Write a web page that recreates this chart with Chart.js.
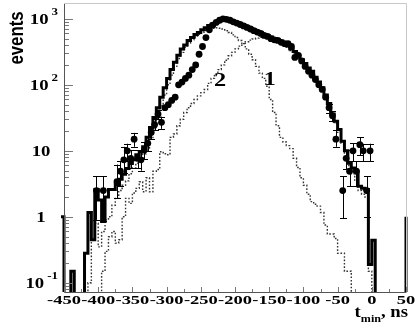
<!DOCTYPE html>
<html><head><meta charset="utf-8">
<script src="https://cdn.jsdelivr.net/npm/chart.js@4/dist/chart.umd.min.js"></script>
<style>html,body{margin:0;padding:0;background:#fff;}#wrap{position:relative;width:415px;height:327px;}</style>
</head><body><div id="wrap"><canvas id="c" width="415" height="327"></canvas></div>
<script>
// bin edges (ns)
const binEdges = [-455,-450,-445,-440,-435,-430,-425,-420,-415,-410,-405,-400,-395,-390,-385,-380,-375,-370,-365,-360,-355,-350,-345,-340,-335,-330,-325,-320,-315,-310,-305,-300,-295,-290,-285,-280,-275,-270,-265,-260,-255,-250,-245,-240,-235,-230,-225,-220,-215,-210,-205,-200,-195,-190,-185,-180,-175,-170,-165,-160,-155,-150,-145,-140,-135,-130,-125,-120,-115,-110,-105,-100,-95,-90,-85,-80,-75,-70,-65,-60,-55,-50,-45,-40,-35,-30,-25,-20,-15,-10,-5,0,5,10,15,20,25,30,35,40,45,50,55];
// simulated histogram (thick line)
const histCounts = [1,
 0,0,0.15,0,0,0,0.28,1.16,0.45,2.6,
 1.8,0.85,2.0,2.6,2.6,3.1,3.7,4.4,5.4,6.4,
 7.3,8.7,9.7,11.5,16,22,32,45,65,90,
 125,170,220,280,350,400,470,520,580,620,
 680,730,790,830,880,930,980,1000,950,900,
 870,830,800,760,720,680,650,620,580,560,
 530,500,480,460,430,390,350,320,280,240,
 210,180,160,130,110,90,70,52,36,28,
 21,14,10,6.5,5.5,4.9,2.9,2.7,2.6,0.19,
 0.44,0,0,0,0,0,0,0,0,0,
 1];
// component 1 (dotted)
const curve1 = [0,
 0,0,0,0,0,0,0,0.1,0.45,0.8,
 0.35,0.6,0.9,1.0,1.5,1.9,2.5,3.0,3.5,4.5,
 5.5,6.5,7.5,9,11,15,22,32,48,70,
 100,140,190,250,310,370,430,480,530,580,
 630,670,700,720,730,720,700,660,620,570,
 520,470,420,350,290,240,190,150,125,95,
 60,38,24,16,13.6,12,10.8,7.7,5.6,3.9,
 3.0,2.2,1.7,1.55,1.45,1.16,0.75,0.55,0.55,0.47,
 0.28,0.28,0.15,0.15,0,0,0,0,0,0,
 0,0,0,0,0,0,0,0,0,0,
 0];
// component 2 (dotted)
const curve2 = [0,
 0,0,0,0,0,0,0,0,0,0,
 0,0.15,0.3,0.5,0.6,0.4,0.45,1.0,1.9,1.6,
 2.3,2.7,3.4,2.4,3.9,2.4,4.9,5.2,9.7,9.0,
 8.7,16,18,24,30,38,45,52,60,68,
 76,85,105,125,145,170,200,235,275,310,
 350,385,420,450,475,495,510,525,535,540,
 520,490,460,430,400,370,330,300,260,220,
 190,160,140,115,95,80,62,48,34,26,
 19,13,9,6,4.5,3.5,2.5,2.2,2.0,0.15,
 0,0,0,0,0,0,0,0,0,0,
 0];
// experimental points
const pointX = [-402.5,-392.5,-372.5,-367.5,-362.5,-357.5,-352.5,-347.5,-342.5,-337.5,-332.5,-327.5,-322.5,-317.5,-312.5,-307.5,
 -302.5,-297.5,-292.5,-287.5,-282.5,-277.5,-272.5,-267.5,-262.5,-257.5,-252.5,-247.5,-242.5,-237.5,-232.5,-227.5,-222.5,-217.5,-212.5,-207.5,-202.5,-197.5,-192.5,-187.5,-182.5,-177.5,-172.5,-167.5,-162.5,-157.5,-152.5,-147.5,-142.5,-137.5,-132.5,-127.5,-122.5,-117.5,-112.5,-107.5,-102.5,-97.5,-92.5,-87.5,-82.5,-77.5,-72.5,-67.5,
 -62.5,-57.5,-52.5,-42.5,-37.5,-32.5,-27.5,-22.5,-17.5,-12.5,-7.5,-2.5];
const pointY = [2.5,2.5,3.4,4.9,7.3,10,7.7,15,7.7,7.3,10.3,13,19,25,36,27,
 45,50,58,65,100,110,125,140,170,200,290,380,520,680,800,880,950,1000,980,950,900,860,820,780,740,700,660,630,600,560,540,500,480,470,440,420,420,380,260,280,230,190,160,140,120,100,85,65,
 45,34,15,2.5,7.7,4.9,10,4.9,12.4,10,2.5,10];
// error bars
const errX = [-402.5,-392.5,-372.5,-367.5,-362.5,-357.5,-352.5,-347.5,-342.5,-337.5,-332.5,-327.5,-322.5,-317.5,-312.5,-307.5,-62.5,-57.5,-52.5,-42.5,-37.5,-32.5,-27.5,-22.5,-17.5,-12.5,-7.5,-2.5];
const errLo = [0.9,0.87,1.9,2.9,4.6,7.0,5.4,11.5,5.4,5.0,7.5,9.8,15,20.5,30,21.5,38,28,11.5,0.95,5.3,2.9,7,2.9,8.5,6.9,1.0,6.9];
const errHi = [4.1,4.1,6.2,7.0,11.5,12.8,10.2,18.7,10.2,9.8,13.6,16.5,23.5,30,42,33,52,40,21,4.1,10.2,7.0,13,7.0,16,12.8,4.1,12.8];
// axis ticks / labels
const xTickValues = [-450,-400,-350,-300,-250,-200,-150,-100,-50,0,50];
const yDecades = [0.1,1,10,100,1000];
const yLabelBase = ['10','1','10','10','10'];
const yLabelExp = ['-1','','','2','3'];
const curveLabels = [{text:'1', x:-149, y:118},{text:'2', x:-222, y:114}];

const FLOOR = 0.01;
function steps(vals){
  const d = [];
  for (let i=0;i<vals.length;i++) d.push({x:binEdges[i], y: vals[i] > 0 ? vals[i] : FLOOR});
  d.push({x:binEdges[vals.length], y: vals[vals.length-1] > 0 ? vals[vals.length-1] : FLOOR});
  return d;
}
const SERIF = '"Liberation Serif","Times New Roman",serif';
function sText(ctx, text, x, y, font, sx, align, base){
  ctx.save();
  ctx.font = font; ctx.textAlign = align; ctx.textBaseline = base || 'middle';
  ctx.translate(x, y); ctx.scale(sx, 1);
  ctx.fillText(text, 0, 0);
  ctx.restore();
}
function sWidth(ctx, text, font, sx){ ctx.save(); ctx.font = font; const w = ctx.measureText(text).width * sx; ctx.restore(); return w; }

const decor = {
  id:'decor',
  afterDatasetsDraw(chart){
    const ctx = chart.ctx, xs = chart.scales.x, ys = chart.scales.y, a = chart.chartArea;
    ctx.save();
    // error bars
    ctx.strokeStyle = '#000'; ctx.lineWidth = 1;
    for (let i=0;i<errX.length;i++){
      const px = Math.round(xs.getPixelForValue(errX[i])) + 0.5;
      const p1 = ys.getPixelForValue(errLo[i]), p2 = ys.getPixelForValue(errHi[i]);
      ctx.beginPath();
      ctx.moveTo(px,p1); ctx.lineTo(px,p2);
      ctx.moveTo(px-3.5,Math.round(p1)+0.5); ctx.lineTo(px+3.5,Math.round(p1)+0.5);
      ctx.moveTo(px-3.5,Math.round(p2)+0.5); ctx.lineTo(px+3.5,Math.round(p2)+0.5);
      ctx.stroke();
    }
    // frame
    ctx.lineWidth = 1;
    ctx.strokeStyle = '#c8c8c8';
    ctx.beginPath(); ctx.moveTo(a.left, a.top-0.5); ctx.lineTo(a.right+0.5, a.top-0.5); ctx.lineTo(a.right+0.5, a.bottom); ctx.stroke();
    ctx.strokeStyle = '#555';
    ctx.beginPath(); ctx.moveTo(a.left+0.5, a.top); ctx.lineTo(a.left+0.5, a.bottom+0.5); ctx.lineTo(a.right+0.5, a.bottom+0.5); ctx.stroke();
    // y ticks (inward)
    ctx.strokeStyle = '#777';
    ctx.beginPath();
    for (const d of [0.01].concat(yDecades)) {
      for (let m=1;m<10;m++){
        const v = m*d;
        if (v < ys.min || v > ys.max) continue;
        const py = Math.round(ys.getPixelForValue(v)) + 0.5;
        const len = m===1 ? 8 : 4;
        ctx.moveTo(a.left+1, py); ctx.lineTo(a.left+1+len, py);
      }
    }
    ctx.stroke();
    // x ticks (inward)
    ctx.beginPath();
    for (let v=-450; v<=50; v+=25){
      const px = Math.round(xs.getPixelForValue(v)) + 0.5;
      const len = (v % 50 === 0) ? 5 : 3;
      ctx.moveTo(px, a.bottom); ctx.lineTo(px, a.bottom-len);
    }
    ctx.stroke();
    ctx.fillStyle = '#000';
    // x tick labels
    for (const v of xTickValues) sText(ctx, String(v), xs.getPixelForValue(v), 301, 'bold 13px ' + SERIF, 1.42, 'center');
    // y labels
    for (let i=0;i<yDecades.length;i++){
      const py = ys.getPixelForValue(yDecades[i]);
      const bf = 'bold 15px ' + SERIF, ef = 'bold 10px ' + SERIF;
      if (yLabelExp[i]) {
        const ew = sWidth(ctx, yLabelExp[i], ef, 1.3);
        const ex = 58 - ew;
        sText(ctx, yLabelExp[i], ex, py - 6, ef, 1.3, 'left');
        sText(ctx, yLabelBase[i], ex - 3, py + 1, bf, 1.25, 'right');
      } else {
        sText(ctx, yLabelBase[i], 41, py + 1, bf, 1.25, 'center');
      }
    }
    // curve labels
    for (const l of curveLabels) sText(ctx, l.text, xs.getPixelForValue(l.x), ys.getPixelForValue(l.y), 'bold 18px ' + SERIF, 1.35, 'center');
    // y title
    ctx.save();
    ctx.translate(17, 38);
    ctx.rotate(-Math.PI/2);
    ctx.scale(0.8, 1);
    ctx.font = 'bold 21px "Liberation Sans", Arial, sans-serif';
    ctx.textAlign = 'center'; ctx.textBaseline = 'middle';
    ctx.fillText('events', 0, 0);
    ctx.restore();
    // x title  t_min, ns
    const big = 'bold 17px ' + SERIF, small = 'bold 11px ' + SERIF;
    const wt = sWidth(ctx,'t',big,1.1), wm = sWidth(ctx,'min',small,1.1), wn = sWidth(ctx,', ns',big,1.1);
    let sx = 408 - (wt + wm + wn);
    sText(ctx,'t',sx,317,big,1.1,'left','alphabetic'); sx += wt;
    sText(ctx,'min',sx,322,small,1.1,'left','alphabetic'); sx += wm;
    sText(ctx,', ns',sx,317,big,1.1,'left','alphabetic');
    ctx.restore();
  }
};

new Chart(document.getElementById('c'), {
  type: 'line',
  data: {
    datasets: [
      {label:'data', data: pointX.map((x,i)=>({x, y: pointY[i]})), showLine:false, pointRadius:3.4, pointBackgroundColor:'#000', pointBorderWidth:0, borderColor:'#000', order:0},
      {label:'sim', data: steps(histCounts), stepped:true, borderColor:'#000', borderWidth:3, pointRadius:0, fill:false, order:1, clip:{left:3,top:0,right:3,bottom:0}},
      {label:'1', data: steps(curve1), stepped:true, borderColor:'#333', borderWidth:1.4, borderDash:[1.6,1.8], pointRadius:0, fill:false, order:2, clip:0},
      {label:'2', data: steps(curve2), stepped:true, borderColor:'#333', borderWidth:1.4, borderDash:[1.6,1.8], pointRadius:0, fill:false, order:3, clip:0}
    ]
  },
  options: {
    responsive:false, animation:false, devicePixelRatio:1,
    layout:{padding:{left:0,right:9,top:1,bottom:0}},
    plugins:{legend:{display:false}, tooltip:{enabled:false}},
    scales:{
      x:{type:'linear', min:-450, max:50,
         afterBuildTicks(s){ s.ticks = xTickValues.map(v=>({value:v})); },
         afterFit(s){ s.height = 35; },
         grid:{display:false, drawTicks:false}, border:{display:false},
         ticks:{display:false}},
      y:{type:'logarithmic', min:0.0726, max:1675,
         afterFit(s){ s.width = 64; },
         grid:{display:false, drawTicks:false}, border:{display:false},
         ticks:{display:false}}
    }
  },
  plugins:[decor]
});
</script></body></html>
